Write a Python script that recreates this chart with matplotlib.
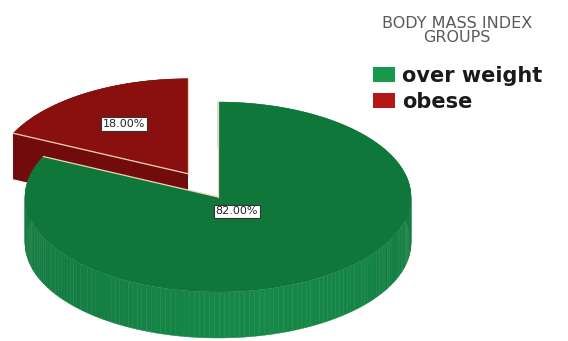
import numpy as np
import matplotlib.pyplot as plt
from matplotlib.patches import Rectangle
from matplotlib.collections import PolyCollection
from matplotlib.colors import to_rgb

# data
categories = ['over weight', 'obese']
percents = [82.0, 18.0]
explode = [0.0, 0.29]
label_r = [0.18, 0.62]   # where the % label sits, fraction of radius
legend_title = ['BODY MASS INDEX', 'GROUPS']

top_colors = ['#0f773a', '#8a1010']
side_colors = ['#147c41', '#720c0c']
key_colors = ['#17984a', '#b51717']
edge_col = '#f2d3b4'

# pie geometry in pixel units
cx, cy = 218, 197
rx, ry = 193, 95
depth = 46


def pt(a, ox=0.0, oy=0.0, r=1.0, dz=0.0):
    a = np.radians(a)
    return (cx + ox + r * rx * np.cos(a), cy + oy - r * ry * np.sin(a) + dz)


fig = plt.figure(figsize=(5.68, 3.41), dpi=100)
ax = fig.add_axes([0, 0, 1, 1])
ax.set_xlim(0, 568)
ax.set_ylim(341, 0)
ax.axis('off')

# slice angles, start at 12 o'clock, clockwise
starts = 90 - 360 * np.concatenate([[0], np.cumsum(percents)[:-1]]) / 100
ends = starts - 360 * np.array(percents) / 100

for i in reversed(range(len(percents))):
    t1, t2 = starts[i], ends[i]
    mid = (t1 + t2) / 2
    ox = explode[i] * rx * np.cos(np.radians(mid))
    oy = -explode[i] * ry * np.sin(np.radians(mid))
    c = (cx + ox, cy + oy)
    angs = np.linspace(t1, t2, 200)

    # outer wall
    quads, cols = [], []
    for a, b in zip(angs[:-1], angs[1:]):
        quads.append([pt(a, ox, oy), pt(b, ox, oy),
                      pt(b, ox, oy, dz=depth), pt(a, ox, oy, dz=depth)])
        shade = 1 + 0.10 * max(0.0, -np.sin(np.radians(a))) * np.cos(np.radians(a + 60))
        cols.append(np.clip(np.array(to_rgb(side_colors[i])) * shade, 0, 1))
    ax.add_collection(PolyCollection(quads, facecolors=cols, edgecolors=cols, linewidths=0.3))

    # cut faces
    for a in (t1, t2):
        p = pt(a, ox, oy)
        ax.fill([c[0], p[0], p[0], c[0]], [c[1], p[1], p[1] + depth, c[1] + depth],
                color=side_colors[i], lw=0)

    # top face
    arc = np.array([pt(a, ox, oy) for a in angs])
    ax.fill(np.r_[c[0], arc[:, 0]], np.r_[c[1], arc[:, 1]], color=top_colors[i], lw=0)
    for a in (t1, t2):
        p = pt(a, ox, oy)
        ax.plot([c[0], p[0]], [c[1], p[1]], color=edge_col, lw=0.9)

    lx, ly = pt(mid, ox, oy, r=label_r[i])
    ax.text(lx, ly, f'{percents[i]:.2f}%', ha='center', va='center', fontsize=8,
            color='#222222',
            bbox=dict(boxstyle='square,pad=0.15', fc='white', ec='#333333', lw=0.8))

# legend
ax.text(457, 23, legend_title[0], ha='center', va='center', fontsize=11.5, color='#5a5a5a')
ax.text(457, 37, legend_title[1], ha='center', va='center', fontsize=11.5, color='#5a5a5a')
for i, name in enumerate(categories):
    y0 = 67 + 25.5 * i
    ax.add_patch(Rectangle((373, y0), 22, 15, color=key_colors[i], lw=0))
    ax.text(402, y0 + 15, name, ha='left', va='baseline', fontsize=15,
            fontweight='bold', color='#1a1a1a')

fig.savefig('out.png', dpi=100)
